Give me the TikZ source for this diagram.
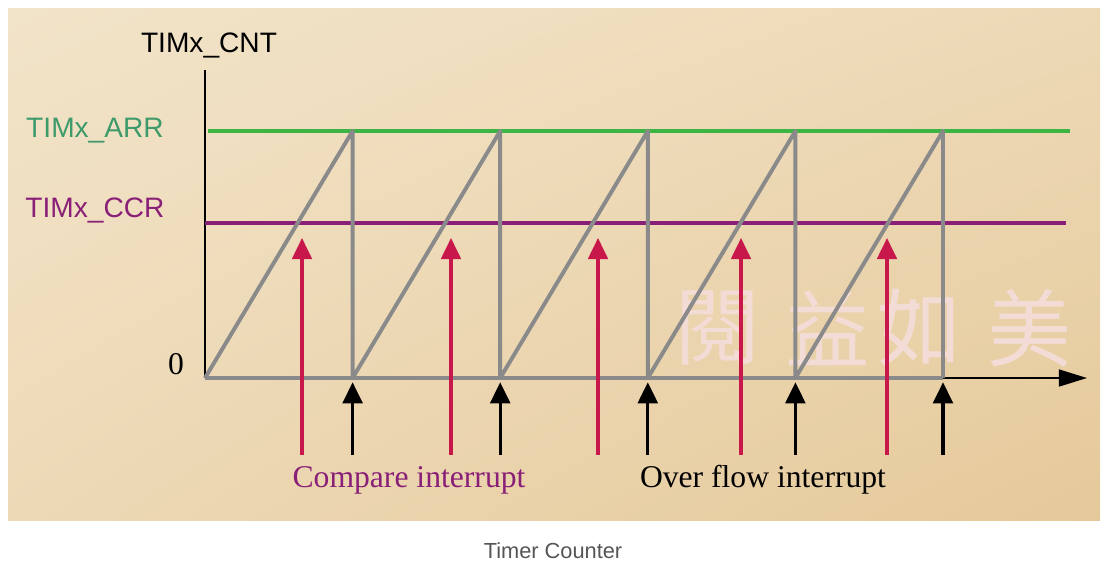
\documentclass[tikz,border=0pt]{standalone}
\usepackage{fontspec}
\setmainfont{Liberation Serif}
\setsansfont{Liberation Sans}
\newfontfamily\cjkfont{Noto Sans CJK TC}
\usetikzlibrary{arrows.meta,shadings}

\definecolor{paper}{HTML}{E5C99A}
\definecolor{papermid}{HTML}{EDD9B6}
\definecolor{paperlight}{HTML}{F2E4C9}
\definecolor{sawgray}{HTML}{8A8A8A}
\definecolor{arrgreen}{HTML}{3DB545}
\definecolor{arrtext}{HTML}{3E9A6A}
\definecolor{ccrpurple}{HTML}{8A1F78}
\definecolor{cmpred}{HTML}{C8174B}
\definecolor{capgray}{HTML}{555555}
\definecolor{wmpink}{HTML}{F4DCD6}

\tikzset{>/.tip={Triangle[width=14pt,length=15pt]},
  saw/.style={draw=sawgray, line width=2.8pt, line join=round},
  cmparrow/.style={->, draw=cmpred, line width=2.2pt},
  ovfarrow/.style={->, draw=black, line width=2.4pt},
  axislabel/.style={inner sep=0pt, font=\sffamily\fontsize{20}{24}\selectfont},
  irqlabel/.style={inner sep=0pt, font=\fontsize{22.5}{27}\selectfont}}

\begin{document}
\begin{tikzpicture}[x=0.025cm, y=-0.025cm]
 \useasboundingbox (0,0) rectangle (1109,568);
 \shade[upper left=paperlight, upper right=papermid, lower left=papermid, lower right=paper] (8,8) rectangle (1100,520);

 % watermark
 \foreach \ch/\wx in {閱/718, 益/828, 如/920, 美/1030}
   \node[text=wmpink, inner sep=0pt, font=\cjkfont\fontsize{60}{60}\selectfont] (wm\wx) at (\wx,328) {\ch};

 % axes
 \coordinate (o)    at (205,378);
 \coordinate (ytop) at (205,70);
 \coordinate (xend) at (1087,378);
 \draw[line width=1.4pt] (o) -- (ytop);
 \draw[line width=1.4pt, -{Triangle[width=12pt,length=20pt]}] (o) -- (xend);

 \node[axislabel] (cnt) at (209,45) {TIMx\_CNT};
 \node[axislabel, text=arrtext] (arr) at (95,131) {TIMx\_ARR};
 \node[axislabel, text=ccrpurple] (ccr) at (95,210) {TIMx\_CCR};
 \node[irqlabel] (zero) at (176,364) {0};

 % ARR and CCR levels
 \coordinate (arrl) at (208,131);
 \coordinate (arrr) at (1070,131);
 \coordinate (ccrl) at (205,223);
 \coordinate (ccrr) at (1066,223);
 \draw[arrgreen, line width=2.8pt] (arrl) -- (arrr);
 \draw[ccrpurple, line width=2.2pt] (ccrl) -- (ccrr);

 % sawtooth
 \foreach \k in {1,...,5} {
   \coordinate (top\k) at ({205+147.6*\k},131);
   \coordinate (bot\k) at ({205+147.6*\k},378);
   \coordinate (ovf\k) at ({205+147.6*\k},455);
 }
 \draw[saw] (o) \foreach \k in {1,...,5} { -- (top\k) -- (bot\k) };
 \draw[saw] (o) -- (bot5);

 % interrupts
 \foreach \cx [count=\k] in {302,451,598,741,887} {
   \coordinate (cmpb\k) at (\cx,455);
   \coordinate (cmpt\k) at (\cx,238);
   \draw[cmparrow] (cmpb\k) -- (cmpt\k);
   \draw[ovfarrow] (ovf\k) -- ([yshift=-3] bot\k);
 }

 \node[irqlabel, text=ccrpurple] (cmptext) at (409,480) {Compare interrupt};
 \node[irqlabel] (ovftext) at (763,480) {Over flow interrupt};

 \node[inner sep=0pt, text=capgray, font=\sffamily\fontsize{15.5}{18}\selectfont] (caption) at (553,551) {Timer Counter};
\end{tikzpicture}
\end{document}
